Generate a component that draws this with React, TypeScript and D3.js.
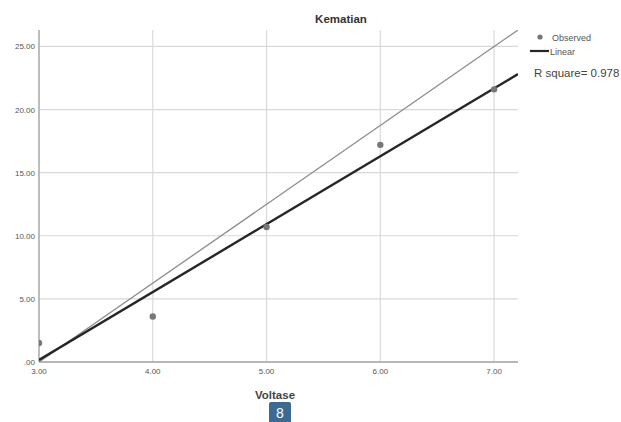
import React from "react";
import * as d3 from "d3";

const voltase = [3, 4, 5, 6, 7];
const kematian = [1.5, 3.6, 10.7, 17.2, 21.6];
const xTicks = [3, 4, 5, 6, 7];
const yTicks = [0, 5, 10, 15, 20, 25];
const title = "Kematian";
const xLabel = "Voltase";
const rSquareLabel = "R square= 0.978";
const legendItems = ["Observed", "Linear"];

const W = 621;
const H = 422;
const m = { left: 39, top: 30, right: 518, bottom: 362 };

export default function App() {
  const x = d3.scaleLinear().domain([3, 7.21]).range([m.left, m.right]);
  const y = d3.scaleLinear().domain([0, 26.3]).range([m.bottom, m.top]);

  const mx = d3.mean(voltase)!;
  const my = d3.mean(kematian)!;
  const sxy = d3.sum(voltase.map((v, i) => (v - mx) * (kematian[i] - my)));
  const sxx = d3.sum(voltase.map((v) => (v - mx) ** 2));
  const slope = sxy / sxx;
  const intercept = my - slope * mx;
  const [x0, x1] = x.domain();
  const [y0, y1] = y.domain();
  const line = d3.line<[number, number]>().x((d) => x(d[0])).y((d) => y(d[1]));
  const fit: [number, number][] = [
    [x0, intercept + slope * x0],
    [x1, intercept + slope * x1],
  ];
  const diag: [number, number][] = [
    [x0, y0],
    [x1, y1],
  ];
  const fmt = (v: number) => (v === 0 ? ".00" : v.toFixed(2));
  const font = "Arial, 'Liberation Sans', sans-serif";

  return (
    <svg width={W} height={H} style={{ position: "absolute", left: 0, top: 0, background: "#fff" }} fontFamily={font}>
      <defs>
        <clipPath id="plot">
          <rect x={m.left} y={m.top} width={m.right - m.left} height={m.bottom - m.top} />
        </clipPath>
      </defs>
      {/* grid */}
      {yTicks.map((t) => (
        <line key={"gy" + t} x1={m.left} x2={m.right} y1={y(t)} y2={y(t)} stroke="#d9d9d9" strokeWidth={1.2} />
      ))}
      {xTicks.map((t) => (
        <line key={"gx" + t} x1={x(t)} x2={x(t)} y1={m.top} y2={m.bottom} stroke="#d9d9d9" strokeWidth={1.2} />
      ))}
      {/* axes */}
      <line x1={m.left} x2={m.left} y1={m.top} y2={m.bottom} stroke="#a6a6a6" strokeWidth={1.3} />
      <line x1={m.left} x2={m.right} y1={m.bottom} y2={m.bottom} stroke="#a6a6a6" strokeWidth={1.3} />
      {yTicks.map((t) => (
        <text key={"ty" + t} x={m.left - 4} y={y(t) + 3} fontSize={8} fill="#555" textAnchor="end">
          {fmt(t)}
        </text>
      ))}
      {xTicks.map((t) => (
        <text key={"tx" + t} x={x(t)} y={m.bottom + 12} fontSize={8} fill="#555" textAnchor="middle">
          {fmt(t)}
        </text>
      ))}
      <g clipPath="url(#plot)">
        <path d={line(diag)!} stroke="#8c8c8c" strokeWidth={1.3} fill="none" />
        <path d={line(fit)!} stroke="#262626" strokeWidth={2.4} fill="none" />
        {voltase.map((v, i) => (
          <circle key={"p" + i} cx={x(v)} cy={y(kematian[i])} r={3.2} fill="#777" />
        ))}
      </g>
      <text x={341} y={23} fontSize={11.5} fontWeight="bold" fill="#333" textAnchor="middle">
        {title}
      </text>
      {/* legend */}
      <circle cx={540} cy={37} r={2.6} fill="#777" />
      <text x={552} y={41} fontSize={9} fill="#555">
        {legendItems[0]}
      </text>
      <line x1={530} x2={549} y1={51} y2={51} stroke="#262626" strokeWidth={2.2} />
      <text x={550} y={55} fontSize={9} fill="#555">
        {legendItems[1]}
      </text>
      <text x={534} y={77} fontSize={11.5} fill="#444">
        {rSquareLabel}
      </text>
      <text x={275} y={399} fontSize={11.5} fontWeight="bold" fill="#444" textAnchor="middle">
        {xLabel}
      </text>
      <rect x={269} y={402} width={22} height={22} rx={2} fill="#3c6a92" />
      <text x={280} y={418} fontSize={14} fill="#fff" textAnchor="middle">
        8
      </text>
    </svg>
  );
}
